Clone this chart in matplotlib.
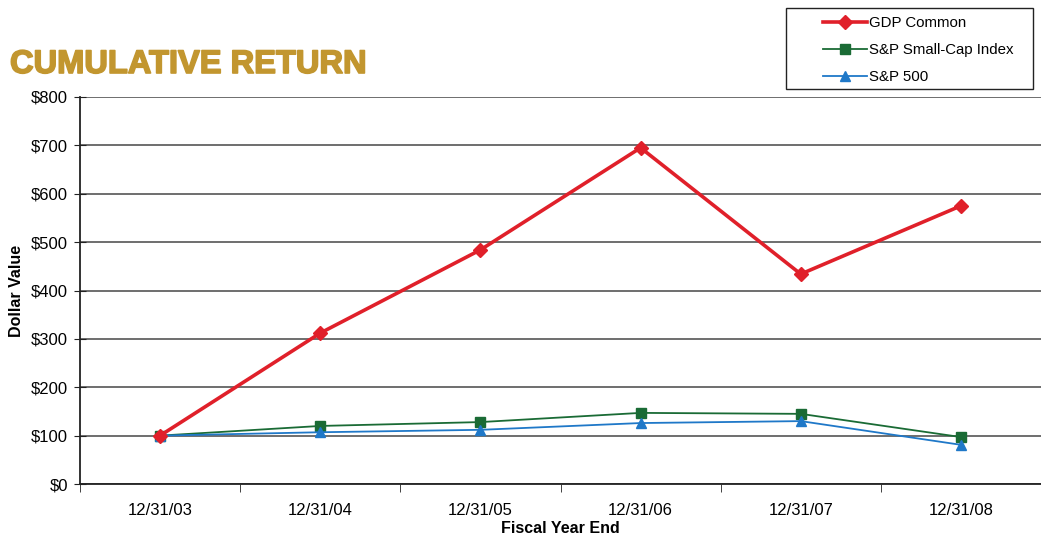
import matplotlib
matplotlib.use("Agg")
import matplotlib.pyplot as plt
import matplotlib.patheffects as pe
from matplotlib.patches import Rectangle

# 数据
dates = ['12/31/03', '12/31/04', '12/31/05', '12/31/06', '12/31/07', '12/31/08']
gdp_common = [100, 312, 484, 695, 434, 575]
sp_smallcap = [100, 120, 128, 147, 145, 97]
sp_500 = [100, 107, 112, 126, 130, 81]

plt.rcParams['font.family'] = ['Liberation Sans', 'DejaVu Sans']

W, H = 1041, 536
fig = plt.figure(figsize=(W / 100, H / 100), dpi=100)
# 坐标轴: 左 80px, 右边延伸到图边, y=0 在 484px, y=800 在 97px
ax = fig.add_axes([80 / W, 1 - 484 / H, 961 / W, 387 / H])

x = list(range(len(dates)))
ax.plot(x, gdp_common, color='#E0202A', lw=2.6, marker='D', ms=7, label='GDP Common', zorder=5)
ax.plot(x, sp_smallcap, color='#1A6B35', lw=1.3, marker='s', ms=7, label='S&P Small-Cap Index', zorder=4)
ax.plot(x, sp_500, color='#1F78C8', lw=1.3, marker='^', ms=7, label='S&P 500', zorder=4)

ax.set_ylim(0, 800)
ax.set_yticks(range(0, 801, 100))
ax.set_yticklabels([f'${v}' for v in range(0, 801, 100)], fontsize=12)
# 每个类别约 162px 宽
ax.set_xlim(-0.5, -0.5 + 961 / 162)
ax.set_xticks(x)
ax.set_xticklabels(dates, fontsize=12)
ax.set_xticks([i - 0.5 for i in x] + [5.5], minor=True)
ax.tick_params(axis='x', which='major', length=0, pad=14)
ax.tick_params(axis='x', which='minor', length=6, color='#222222')
ax.tick_params(axis='y', direction='inout', length=9, color='#222222', pad=4)

ax.grid(axis='y', color='#555555', lw=1.2)
ax.set_axisbelow(True)
for s in ['top', 'right']:
    ax.spines[s].set_visible(False)
for s in ['left', 'bottom']:
    ax.spines[s].set_color('#222222')
    ax.spines[s].set_linewidth(1.3)

ax.set_ylabel('Dollar Value', fontsize=11.5, fontweight='bold', labelpad=5)
ax.set_xlabel('Fiscal Year End', fontsize=11.5, fontweight='bold', labelpad=2)

fig.text(10 / W, 1 - 73 / H, 'CUMULATIVE RETURN', color='#C2962F', fontsize=23.5,
         fontweight='bold', ha='left', va='baseline',
         path_effects=[pe.withStroke(linewidth=1.2, foreground='#C2962F')])

# 图例: 自画边框
fig.patches.append(Rectangle((786 / W, 1 - 89 / H), 247 / W, 81 / H,
                             transform=fig.transFigure, fill=False,
                             edgecolor='#222222', lw=1.0))
fig.legend(loc='upper left', bbox_to_anchor=(823 / W, 1 - 16 / H), fontsize=10.8,
           frameon=False, borderpad=0, borderaxespad=0, labelspacing=0.88,
           handlelength=2.9, handletextpad=0.15)

fig.savefig('out.png', dpi=100)
